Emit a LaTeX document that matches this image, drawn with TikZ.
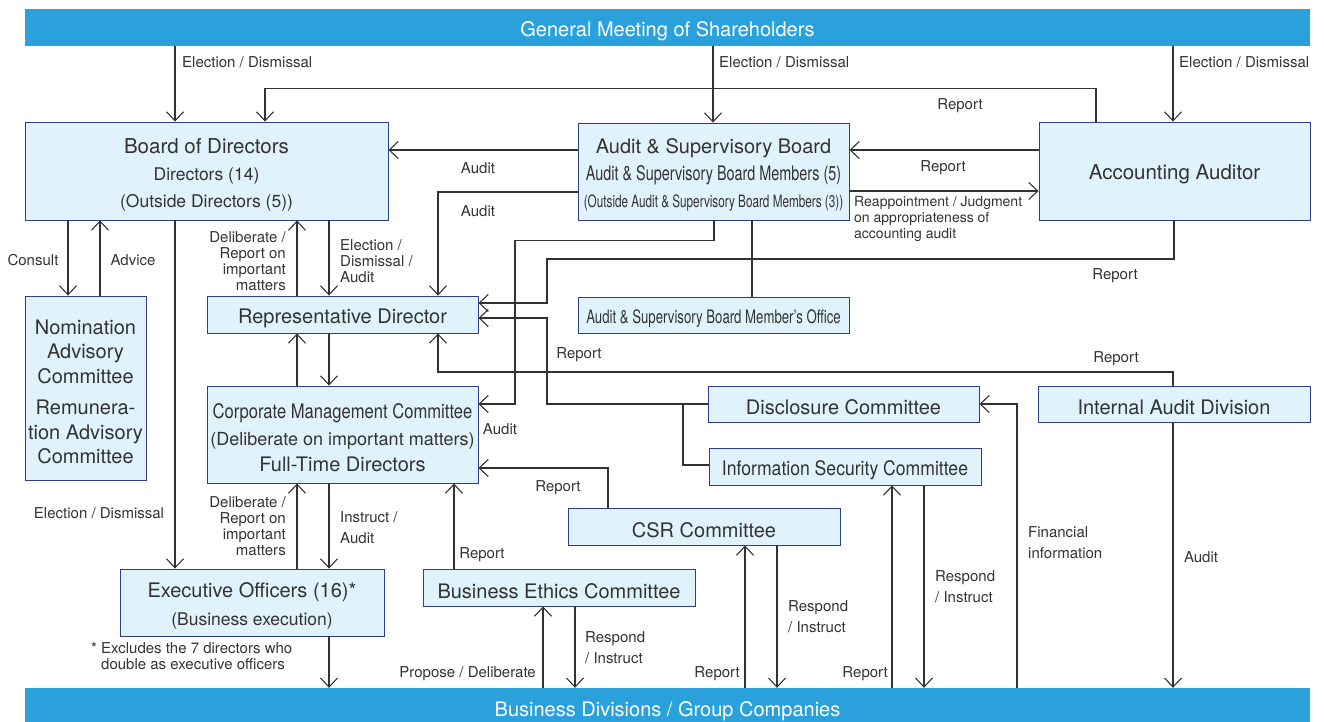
\documentclass[tikz,border=0pt]{standalone}
\usepackage{graphicx}
\usepackage{fontspec}
\setmainfont{TeX Gyre Heros}
\usetikzlibrary{arrows.meta}
\definecolor{barblue}{RGB}{42,161,218}
\definecolor{boxfill}{RGB}{224,242,251}
\definecolor{boxline}{RGB}{45,62,140}
\definecolor{ink}{RGB}{51,51,51}
\newcommand{\fs}[2]{\fontsize{#1}{#2}\selectfont}
\newcommand{\cond}[2]{\scalebox{#1}[1]{#2}}
\newcommand{\tup}{\rule{0pt}{22pt}}
\begin{document}
\begin{tikzpicture}[x=1pt,y=-1pt,
  box/.style={draw=boxline, fill=boxfill, line width=0.9pt, inner sep=0pt, align=center, text=ink, font=\fs{20}{24}},
  bar/.style={fill=barblue, inner sep=0pt, text=white, font=\fs{20}{24}},
  lbl/.style={inner sep=0pt, text=ink, font=\fs{15}{16}},
  lblw/.style={lbl, anchor=north west, align=left, font=\fs{15}{21}},
  arr/.style={line width=1.1pt, draw=ink, -{Straight Barb[length=9pt,width=17pt]}},
  ln/.style={line width=1.1pt, draw=ink}]
\useasboundingbox (0,0) rectangle (1324,722);

% bars
\node[bar, minimum width=1285pt, minimum height=37pt] (gm) at (667.5,27.5) {\tup General Meeting of Shareholders};
\node[bar, minimum width=1285pt, minimum height=34pt] (bd) at (667.5,705) {\tup\raisebox{-3pt}[\height][\depth]{Business Divisions / Group Companies}};

% boxes
\node[box, minimum width=363pt, minimum height=98pt, font=\fs{17.5}{27}] (bod) at (206.5,171)
  {{\tup\fs{20.5}{27}Board of Directors}\\Directors (14)\\(Outside Directors (5))};
\node[box, minimum width=271pt, minimum height=97pt, font=\fs{20}{27}] (asb) at (713.5,171.5)
  {\tup Audit \& Supervisory Board\\\cond{0.72}{Audit \& Supervisory Board Members (5)}\\{\fs{17}{27}\cond{0.69}{(Outside Audit \& Supervisory Board Members (3))}}};
\node[box, minimum width=271pt, minimum height=98pt, font=\fs{20.5}{24}] (aa) at (1174.5,171) {\tup Accounting Auditor};
\node[box, minimum width=271pt, minimum height=37pt] (rd) at (342.5,314.5) {\tup Representative Director};
\node[box, minimum width=271pt, minimum height=36pt, font=\fs{18.5}{24}] (off) at (713.5,315) {\tup\cond{0.713}{Audit \& Supervisory Board Member's Office}};
\node[box, minimum width=121pt, minimum height=184pt, font=\fs{20}{24.5}] (nom) at (85.5,388)
  {\tup Nomination\\Advisory\\Committee\\[7pt]Remunera-\\tion Advisory\\Committee};
\node[box, minimum width=271pt, minimum height=97pt, font=\fs{18}{26.5}] (cmc) at (342.5,434.5)
  {\tup\cond{0.83}{\fs{20}{26.5}Corporate Management Committee}\\(Deliberate on important matters)\\{\fs{20}{26.5}Full-Time Directors}};
\node[box, minimum width=271pt, minimum height=36pt] (dc) at (843.5,404) {\tup Disclosure Committee};
\node[box, minimum width=272pt, minimum height=36pt] (iad) at (1174,404) {\tup Internal Audit Division};
\node[box, minimum width=272pt, minimum height=37pt] (isc) at (845,466.5) {\tup\cond{0.88}{Information Security Committee}};
\node[box, minimum width=272pt, minimum height=37pt] (csr) at (704,526.5) {\tup CSR Committee};
\node[box, minimum width=264pt, minimum height=67pt, font=\fs{17.5}{28}] (eo) at (252,602.5)
  {{\tup\fs{20}{28}Executive Officers (16)*}\\(Business execution)};
\node[box, minimum width=272pt, minimum height=37pt] (bec) at (559,587.5) {\tup Business Ethics Committee};

% connectors
\draw[arr] (gm.south-|175,0) -- (bod.north-|175,0);
\draw[arr] (gm.south-|713,0) -- (asb.north-|713,0);
\draw[arr] (gm.south-|1173,0) -- (aa.north-|1173,0);
\draw[arr] (aa.north-|1096,0) -- ++(0,-33) -| (bod.north-|265,0);
\draw[arr] (aa.west|-0,150) -- (asb.east|-0,150);
\draw[arr] (asb.east|-0,191) -- (aa.west|-0,191);
\draw[arr] (asb.west|-0,150) -- (bod.east|-0,150);
\draw[arr] (asb.west|-0,192) -| (rd.north-|438,0);
\draw[ln] (asb.south-|752,0) -- (off.north-|752,0);
\draw[arr] (asb.south-|714,0) -- ++(0,20) -| (515,404) -- (cmc.east|-0,404);
\draw[arr] (aa.south-|1174,0) |- (547,259) |- (rd.east|-0,303);
\draw[arr] (dc.west|-0,404) -| (547,318) -- (rd.east|-0,318);
\draw[ln] (isc.west|-0,465) -| (683,404);
\draw[arr] (iad.north-|1173,0) |- (438,372) -- (rd.south-|438,0);
\draw[arr] (bd.north-|1017,0) |- (dc.east|-0,404);
\draw[arr] (iad.south-|1173,0) -- (bd.north-|1173,0);
\draw[arr] (bod.south-|68,0) -- (nom.north-|68,0);
\draw[arr] (nom.north-|100,0) -- (bod.south-|100,0);
\draw[arr] (bod.south-|175,0) -- (eo.north-|175,0);
\draw[arr] (rd.north-|297,0) -- (bod.south-|297,0);
\draw[arr] (bod.south-|329,0) -- (rd.north-|329,0);
\draw[arr] (cmc.north-|297,0) -- (rd.south-|297,0);
\draw[arr] (rd.south-|329,0) -- (cmc.north-|329,0);
\draw[arr] (eo.north-|297,0) -- (cmc.south-|297,0);
\draw[arr] (cmc.south-|329,0) -- (eo.north-|329,0);
\draw[arr] (eo.south-|329,0) -- (bd.north-|329,0);
\draw[arr] (bec.north-|454,0) -- (cmc.south-|454,0);
\draw[arr] (csr.north-|608,0) |- (cmc.east|-0,468);
\draw[arr] (bd.north-|543,0) -- (bec.south-|543,0);
\draw[arr] (bec.south-|575,0) -- (bd.north-|575,0);
\draw[arr] (bd.north-|745,0) -- (csr.south-|745,0);
\draw[arr] (csr.south-|777,0) -- (bd.north-|777,0);
\draw[arr] (bd.north-|892,0) -- (isc.south-|892,0);
\draw[arr] (isc.south-|924,0) -- (bd.north-|924,0);

% labels
\node[lbl, anchor=west] (l1) at (182,62) {Election / Dismissal};
\node[lbl, anchor=west] (l2) at (719,62) {Election / Dismissal};
\node[lbl, anchor=west] (l3) at (1179,62) {Election / Dismissal};
\node[lbl] (l4) at (960,106) {Report};
\node[lbl] (l5) at (943,168) {Report};
\node[lbl, anchor=north west, align=left, font=\fs{14}{16}] (l6) at (854,196) {Reappointment / Judgment\\on appropriateness of\\accounting audit};
\node[lbl] (l7) at (478,168) {Audit};
\node[lbl] (l8) at (478,211) {Audit};
\node[lbl] (l9) at (1115,276) {Report};
\node[lbl] (l10) at (579,355) {Report};
\node[lbl] (l11) at (1116,359) {Report};
\node[lbl] (l12) at (500,429) {Audit};
\node[lbl] (l13) at (33,260) {Consult};
\node[lbl] (l14) at (133,260) {Advice};
\node[lbl, anchor=north east, align=right] (l15) at (286,231) {Deliberate /\\Report on\\important\\matters};
\node[lbl, anchor=north west, align=left] (l16) at (340,239) {Election /\\Dismissal /\\Audit};
\node[lbl] (l17) at (99,513) {Election / Dismissal};
\node[lbl, anchor=north east, align=right] (l18) at (286,496) {Deliberate /\\Report on\\important\\matters};
\node[lblw] (l19) at (340,511) {Instruct /\\Audit};
\node[lbl, anchor=north west, align=left] (l20) at (101,642) {\llap{* }Excludes the 7 directors who\\double as executive officers};
\node[lbl] (l21) at (482,555) {Report};
\node[lbl] (l22) at (558,488) {Report};
\node[lbl, anchor=east] (l23) at (536,674) {Propose / Deliberate};
\node[lblw] (l24) at (585,631) {Respond\\/ Instruct};
\node[lbl, anchor=east] (l25) at (740,674) {Report};
\node[lblw] (l26) at (788,600) {Respond\\/ Instruct};
\node[lbl, anchor=east] (l27) at (888,674) {Report};
\node[lblw] (l28) at (935,570) {Respond\\/ Instruct};
\node[lblw] (l29) at (1028,526) {Financial\\information};
\node[lbl] (l30) at (1201,557) {Audit};
\end{tikzpicture}
\end{document}
